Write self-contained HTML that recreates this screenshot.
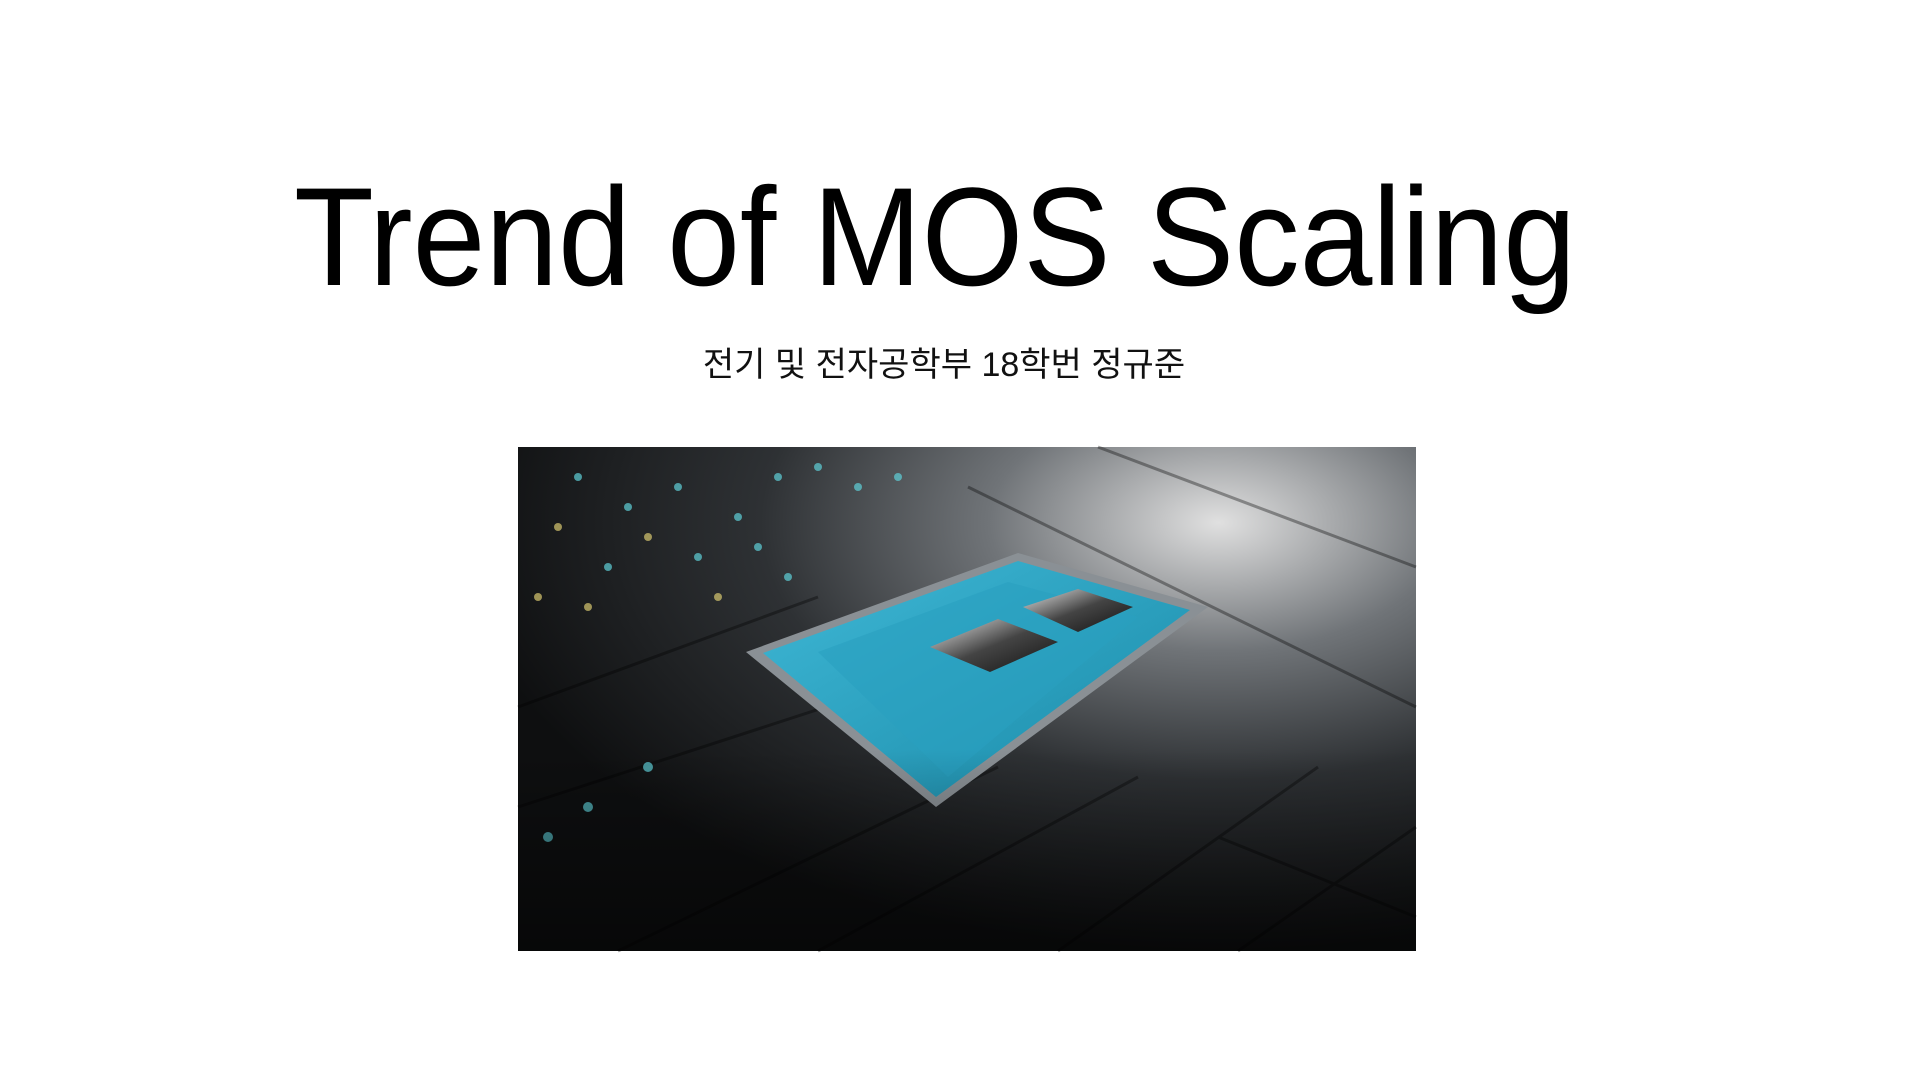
<!DOCTYPE html>
<html><head><meta charset="utf-8"><style>
html,body{margin:0;padding:0;background:#fff;width:1920px;height:1080px;overflow:hidden}
</style></head><body>
<svg width="1920" height="1080" xmlns="http://www.w3.org/2000/svg" style="position:absolute;left:0;top:0">
<defs>
<radialGradient id="bg" cx="0.78" cy="0.15" r="0.85">
<stop offset="0" stop-color="#e0e0e0"/><stop offset="0.3" stop-color="#707478"/><stop offset="0.6" stop-color="#2e3134"/><stop offset="1" stop-color="#0e0f10"/>
</radialGradient>
<linearGradient id="bot" x1="0" y1="0" x2="0" y2="1">
<stop offset="0.6" stop-color="#000" stop-opacity="0"/><stop offset="1" stop-color="#000" stop-opacity="0.5"/>
</linearGradient>
<linearGradient id="teal" x1="0" y1="0" x2="1" y2="1">
<stop offset="0" stop-color="#3fb8d6"/><stop offset="1" stop-color="#1a8aa8"/>
</linearGradient>
<linearGradient id="die" x1="0" y1="0" x2="1" y2="1">
<stop offset="0" stop-color="#e8e8e8"/><stop offset="0.5" stop-color="#444"/><stop offset="1" stop-color="#111"/>
</linearGradient>
</defs>
<text x="935" y="285" text-anchor="middle" font-family="Liberation Sans, sans-serif" font-size="140" textLength="1282" lengthAdjust="spacingAndGlyphs" fill="#000">Trend of MOS Scaling</text>
<text x="944" y="376" text-anchor="middle" font-family="Liberation Sans, 'Noto Sans CJK KR', sans-serif" font-size="34" fill="#111">전기 및 전자공학부 18학번 정규준</text>
<g transform="translate(518,447)">
<rect width="898" height="504" fill="url(#bg)"/>
<g stroke="#000" stroke-opacity="0.35" stroke-width="3" fill="none">
<path d="M0 260 L300 150 M0 360 L400 230 M100 504 L480 320 M300 504 L620 330 M540 504 L800 320 M720 504 L898 380 M580 0 L898 120 M450 40 L898 260 M700 390 L898 470"/>
</g>
<g fill="#5fd0d8" opacity="0.7">
<circle cx="60" cy="30" r="4"/><circle cx="110" cy="60" r="4"/><circle cx="160" cy="40" r="4"/><circle cx="220" cy="70" r="4"/><circle cx="260" cy="30" r="4"/><circle cx="300" cy="20" r="4"/><circle cx="180" cy="110" r="4"/><circle cx="90" cy="120" r="4"/><circle cx="240" cy="100" r="4"/><circle cx="30" cy="390" r="5"/><circle cx="70" cy="360" r="5"/><circle cx="130" cy="320" r="5"/><circle cx="340" cy="40" r="4"/><circle cx="380" cy="30" r="4"/><circle cx="270" cy="130" r="4"/>
</g>
<g fill="#d8c870" opacity="0.7">
<circle cx="40" cy="80" r="4"/><circle cx="130" cy="90" r="4"/><circle cx="70" cy="160" r="4"/><circle cx="200" cy="150" r="4"/><circle cx="20" cy="150" r="4"/><circle cx="330" cy="250" r="4"/><circle cx="470" cy="260" r="4"/>
</g>
<polygon points="228,205 500,106 690,160 418,360" fill="#8a9095"/>
<polygon points="245,206 500,114 672,163 418,350" fill="url(#teal)"/>
<polygon points="300,205 490,135 620,170 430,330" fill="#2aa0c0" opacity="0.6"/>
<polygon points="412,200 480,172 540,195 472,225" fill="url(#die)"/>
<polygon points="505,160 560,142 615,160 560,185" fill="url(#die)"/>
<rect width="898" height="504" fill="url(#bot)"/>
</g>
</svg>
</body></html>
